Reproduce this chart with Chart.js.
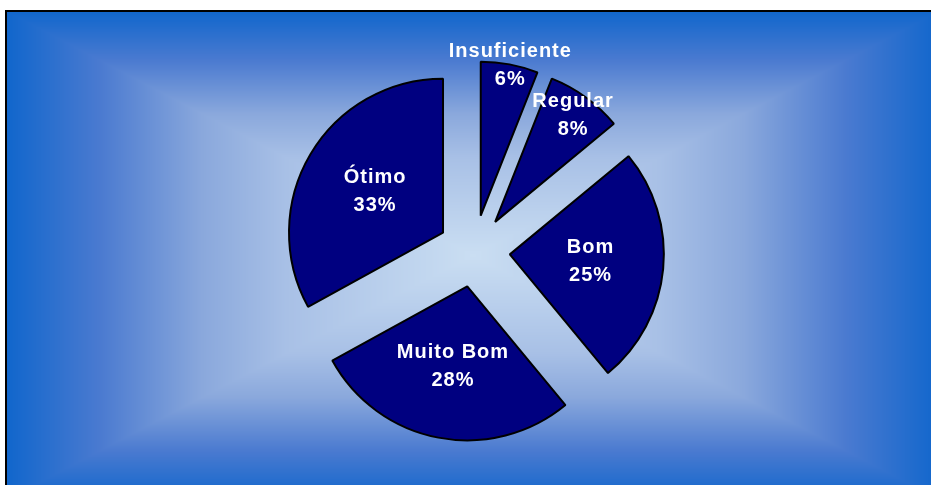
<!DOCTYPE html>
<html lang="pt">
<head>
  <meta charset="UTF-8">
  <title>Avaliação</title>
  <script src="https://cdn.jsdelivr.net/npm/chart.js"></script>
  <style>
    body { margin: 0; background: #fff; overflow: hidden; }
    canvas { display: block; }
  </style>
</head>
<body>
  <canvas id="pieChart" width="931" height="485"></canvas>

  <script>
    const categories = ['Insuficiente', 'Regular', 'Bom', 'Muito Bom', 'Ótimo'];
    const percentages = [6, 8, 25, 28, 33];

    // Rectangular "from centre" gradient behind the pie, plus the frame
    let bgImage = null;
    function buildBackground(w, h) {
      // t = 0 at the centre, 1 at the edge of the box
      const stops = [
        [0, [202, 222, 242]], [0.4, [168, 192, 230]], [0.58, [138, 168, 220]],
        [0.8, [74, 122, 208]], [1, [16, 102, 204]]
      ];
      const colourAt = t => {
        for (let k = 1; k < stops.length; k++) {
          if (t <= stops[k][0]) {
            const a = stops[k - 1], b = stops[k];
            const f = (t - a[0]) / (b[0] - a[0]);
            return a[1].map((v, j) => v + (b[1][j] - v) * f);
          }
        }
        return stops[stops.length - 1][1];
      };
      const off = document.createElement('canvas');
      off.width = w; off.height = h;
      const octx = off.getContext('2d');
      const img = octx.createImageData(w, h);
      const hw = w / 2, hh = h / 2;
      for (let y = 0; y < h; y++) {
        for (let x = 0; x < w; x++) {
          const t = Math.min(1, Math.max(Math.abs(x + 0.5 - hw) / hw, Math.abs(y + 0.5 - hh) / hh));
          const c = colourAt(t);
          const p = (y * w + x) * 4;
          img.data[p] = c[0]; img.data[p + 1] = c[1]; img.data[p + 2] = c[2]; img.data[p + 3] = 255;
        }
      }
      octx.putImageData(img, 0, 0);
      return off;
    }

    const frameBackground = {
      id: 'frameBackground',
      beforeDraw(chart) {
        const ctx = chart.ctx;
        const x0 = 6, y0 = 11, x1 = 940, y1 = 500;
        if (!bgImage) bgImage = buildBackground(x1 - x0, y1 - y0);
        ctx.save();
        ctx.fillStyle = '#fff';
        ctx.fillRect(0, 0, chart.width, chart.height);
        ctx.drawImage(bgImage, x0, y0);
        ctx.lineWidth = 2;
        ctx.strokeStyle = '#000';
        ctx.strokeRect(x0, y0, x1 - x0, y1 - y0);
        ctx.restore();
      }
    };

    // Push every slice out from the centre along its middle angle
    const explodeSlices = {
      id: 'explodeSlices',
      afterDatasetsUpdate(chart, args, opts) {
        chart.getDatasetMeta(0).data.forEach(arc => {
          const mid = (arc.startAngle + arc.endAngle) / 2;
          arc.x += Math.cos(mid) * opts.distance;
          arc.y += Math.sin(mid) * opts.distance;
        });
      }
    };

    // Category name + percentage inside (or just above) each slice
    const sliceLabels = {
      id: 'sliceLabels',
      afterDatasetsDraw(chart, args, opts) {
        const ctx = chart.ctx;
        ctx.save();
        ctx.font = 'bold 20px "Liberation Sans", Arial, sans-serif';
        ctx.letterSpacing = '1px';
        ctx.fillStyle = '#fff';
        ctx.textAlign = 'center';
        ctx.textBaseline = 'middle';
        chart.getDatasetMeta(0).data.forEach((arc, i) => {
          const mid = (arc.startAngle + arc.endAngle) / 2;
          const r = arc.outerRadius * opts.distance[i];
          const x = arc.x + Math.cos(mid) * r + 1;
          const y = arc.y + Math.sin(mid) * r;
          ctx.fillText(chart.data.labels[i], x, y - 14);
          ctx.fillText(chart.data.datasets[0].data[i] + '%', x, y + 14);
        });
        ctx.restore();
      }
    };

    new Chart(document.getElementById('pieChart'), {
      type: 'pie',
      data: {
        labels: categories,
        datasets: [{
          data: percentages,
          backgroundColor: '#000080',
          borderColor: '#000',
          borderWidth: 2
        }]
      },
      options: {
        responsive: false,
        animation: false,
        events: [],
        radius: 154,
        layout: { padding: { left: 17, top: 17, right: 0, bottom: 0 } },
        plugins: {
          legend: { display: false },
          tooltip: { enabled: false },
          explodeSlices: { distance: 36 },
          sliceLabels: { distance: [0.99, 0.85, 0.52, 0.53, 0.52] }
        }
      },
      plugins: [frameBackground, explodeSlices, sliceLabels]
    });
  </script>
</body>
</html>
